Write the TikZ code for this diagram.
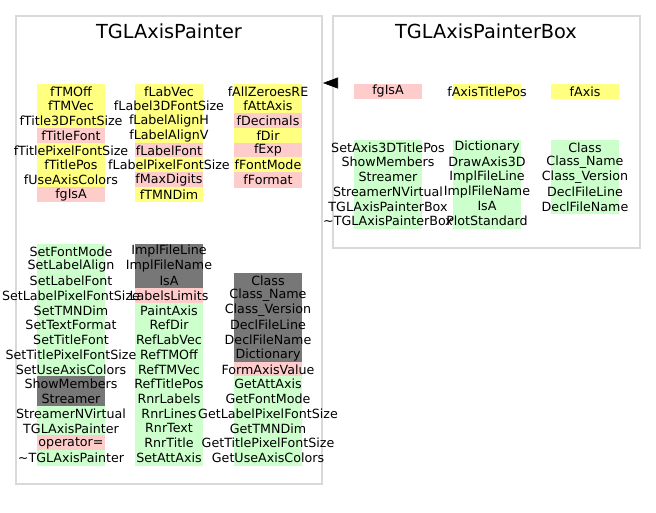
\documentclass[tikz,border=0pt]{standalone}
\usepackage{fontspec}
\setmainfont{DejaVu Sans}
\usetikzlibrary{arrows.meta,fit,backgrounds}
\definecolor{yel}{HTML}{FFFF80}
\definecolor{pnk}{HTML}{FFCCCC}
\definecolor{grn}{HTML}{CCFFCC}
\definecolor{gry}{HTML}{777777}
\definecolor{boxgray}{HTML}{D9D9D9}
\begin{document}
\begin{tikzpicture}[x=0.75pt,y=-0.75pt,>=latex,
        box/.style={draw=boxgray,line width=1.5pt,inner sep=0pt},
        title/.style={font=\fontsize{14.5}{16}\selectfont},
        cell/.style={inner sep=0pt,minimum width=51pt,minimum height=11.06pt,font=\fontsize{9.5}{11}\selectfont},
        inherit/.style={-{Triangle[length=11.25pt,width=8.25pt]}}]
        \useasboundingbox (0,0) rectangle (656,512);
        \node[box,fit={(16,16) (322,484)}] (painter) {};
        \node[box,fit={(333,16) (640,248)}] (painterbox) {};
        \node[title] (painter title) at (169,31){TGLAxisPainter};
        \node[title] (painterbox title) at (486,31){TGLAxisPainterBox};
        \foreach \txt/\col [count=\i] in {fTMOff/yel,fTMVec/yel,fTitle3DFontSize/yel,fTitleFont/pnk,
            fTitlePixelFontSize/yel,fTitlePos/yel,fUseAxisColors/yel,fgIsA/pnk}{
            \node[cell] (fa\i) at (71,{84+(\i-0.5)*14.75}){\makebox[0pt]{\txt}};
            \begin{pgfonlayer}{background}\fill[\col] (fa\i.north west) rectangle (fa\i.south east);\end{pgfonlayer}
        }
        \foreach \txt/\col [count=\i] in {fLabVec/yel,fLabel3DFontSize/yel,fLabelAlignH/yel,fLabelAlignV/yel,
            fLabelFont/pnk,fLabelPixelFontSize/yel,fMaxDigits/pnk,fTMNDim/yel}{
            \node[cell] (fb\i) at (169,{84+(\i-0.5)*14.75}){\makebox[0pt]{\txt}};
            \begin{pgfonlayer}{background}\fill[\col] (fb\i.north west) rectangle (fb\i.south east);\end{pgfonlayer}
        }
        \foreach \txt/\col [count=\i] in {fAllZeroesRE/yel,fAttAxis/yel,fDecimals/pnk,fDir/yel,
            fExp/pnk,fFontMode/yel,fFormat/pnk}{
            \node[cell] (fc\i) at (268,{84+(\i-0.5)*14.75}){\makebox[0pt]{\txt}};
            \begin{pgfonlayer}{background}\fill[\col] (fc\i.north west) rectangle (fc\i.south east);\end{pgfonlayer}
        }
        \foreach \txt/\col [count=\i] in {SetFontMode/grn,SetLabelAlign/grn,SetLabelFont/grn,SetLabelPixelFontSize/grn,
            SetTMNDim/grn,SetTextFormat/grn,SetTitleFont/grn,SetTitlePixelFontSize/grn,SetUseAxisColors/grn,
            ShowMembers/gry,Streamer/gry,StreamerNVirtual/grn,TGLAxisPainter/grn,operator=/pnk,
            \textasciitilde TGLAxisPainter/grn}{
            \node[cell] (ma\i) at (71,{244+(\i-0.5)*14.75}){\makebox[0pt]{\txt}};
            \begin{pgfonlayer}{background}\fill[\col] (ma\i.north west) rectangle (ma\i.south east);\end{pgfonlayer}
        }
        \foreach \txt/\col [count=\i] in {ImplFileLine/gry,ImplFileName/gry,IsA/gry,LabelsLimits/pnk,
            PaintAxis/grn,RefDir/grn,RefLabVec/grn,RefTMOff/grn,RefTMVec/grn,RefTitlePos/grn,
            RnrLabels/grn,RnrLines/grn,RnrText/grn,RnrTitle/grn,SetAttAxis/grn}{
            \node[cell] (mb\i) at (169,{244+(\i-0.5)*14.75}){\makebox[0pt]{\txt}};
            \begin{pgfonlayer}{background}\fill[\col] (mb\i.north west) rectangle (mb\i.south east);\end{pgfonlayer}
        }
        \foreach \txt/\col [count=\i] in {Class/gry,Class\_Name/gry,Class\_Version/gry,DeclFileLine/gry,
            DeclFileName/gry,Dictionary/gry,FormAxisValue/pnk,GetAttAxis/grn,GetFontMode/grn,
            GetLabelPixelFontSize/grn,GetTMNDim/grn,GetTitlePixelFontSize/grn,GetUseAxisColors/grn}{
            \node[cell] (mc\i) at (268,{273.5+(\i-0.5)*14.75}){\makebox[0pt]{\txt}};
            \begin{pgfonlayer}{background}\fill[\col] (mc\i.north west) rectangle (mc\i.south east);\end{pgfonlayer}
        }
        \foreach \txt/\col/\x [count=\i] in {fgIsA/pnk/388,fAxisTitlePos/yel/487,fAxis/yel/585}{
            \node[cell] (bf\i) at (\x,91.4){\makebox[0pt]{\txt}};
            \begin{pgfonlayer}{background}\fill[\col] (bf\i.north west) rectangle (bf\i.south east);\end{pgfonlayer}
        }
        \foreach \txt [count=\i] in {SetAxis3DTitlePos,ShowMembers,Streamer,StreamerNVirtual,
            TGLAxisPainterBox,\textasciitilde TGLAxisPainterBox}{
            \node[cell] (ba\i) at (388,{140+(\i-0.5)*14.75}){\makebox[0pt]{\txt}};
            \begin{pgfonlayer}{background}\fill[grn] (ba\i.north west) rectangle (ba\i.south east);\end{pgfonlayer}
        }
        \foreach \txt [count=\i] in {Dictionary,DrawAxis3D,ImplFileLine,ImplFileName,IsA,PlotStandard}{
            \node[cell] (bb\i) at (487,{140+(\i-0.5)*14.75}){\makebox[0pt]{\txt}};
            \begin{pgfonlayer}{background}\fill[grn] (bb\i.north west) rectangle (bb\i.south east);\end{pgfonlayer}
        }
        \foreach \txt [count=\i] in {Class,Class\_Name,Class\_Version,DeclFileLine,DeclFileName}{
            \node[cell] (bc\i) at (585,{140+(\i-0.5)*14.75}){\makebox[0pt]{\txt}};
            \begin{pgfonlayer}{background}\fill[grn] (bc\i.north west) rectangle (bc\i.south east);\end{pgfonlayer}
        }
        \coordinate (arrowy) at (0,83);
        \draw[inherit] (painterbox.west |- arrowy) -- (painter.east |- arrowy);
    \end{tikzpicture}
\end{document}
